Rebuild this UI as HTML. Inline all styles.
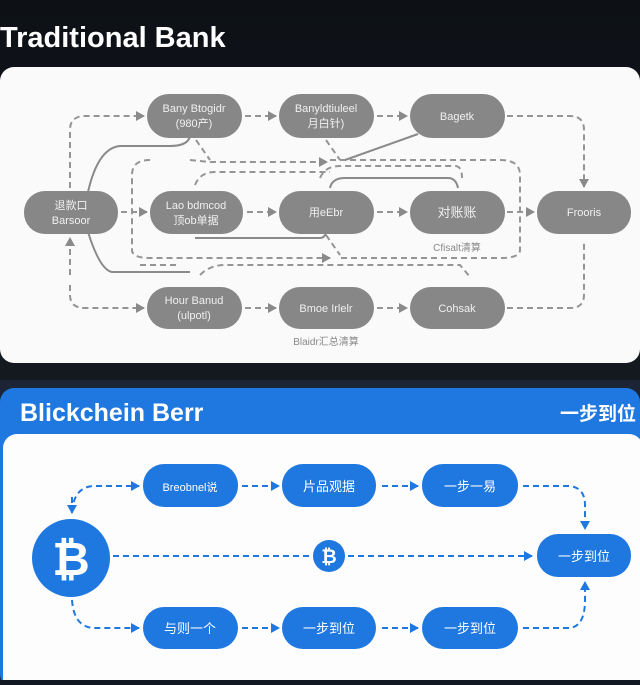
<!DOCTYPE html>
<html><head><meta charset="utf-8"><style>
body{margin:0;width:640px;height:680px;background:#121821;overflow:hidden;font-family:"Liberation Sans","Noto Sans CJK SC",sans-serif}
</style></head><body>
<svg width="640" height="680" viewBox="0 0 640 680" xmlns="http://www.w3.org/2000/svg" font-family="Liberation Sans, Noto Sans CJK SC, sans-serif">
<defs>
<marker id="ag" markerUnits="userSpaceOnUse" markerWidth="9" markerHeight="10" refX="8" refY="5" orient="auto"><path d="M0,0 L9,5 L0,10 Z" fill="#8a8a8a"/></marker>
<marker id="ab" markerUnits="userSpaceOnUse" markerWidth="9" markerHeight="10" refX="8" refY="5" orient="auto"><path d="M0,0 L9,5 L0,10 Z" fill="#1e78e0"/></marker>
<linearGradient id="top" x1="0" y1="0" x2="0" y2="1"><stop offset="0" stop-color="#0d1116"/><stop offset="1" stop-color="#1a2029"/></linearGradient>
</defs>
<rect width="640" height="680" fill="url(#top)"/>
<rect x="0" y="380" width="640" height="300" fill="#1b2535"/>
<text x="0" y="47" font-size="29" font-weight="bold" fill="#fff">Traditional Bank</text>
<rect x="0" y="67" width="640" height="296" rx="14" fill="#fafafa"/>
<g fill="none" stroke="#959595" stroke-width="2" stroke-dasharray="6,4">
<path d="M70,188 V130 Q70,116 85,116 H144" marker-end="url(#ag)"/>
<path d="M245,116 H276" marker-end="url(#ag)"/>
<path d="M377,116 H407" marker-end="url(#ag)"/>
<path d="M507,116 H570 Q584,116 584,130 V187" marker-end="url(#ag)"/>
<path d="M121,212 H147" marker-end="url(#ag)"/>
<path d="M247,212 H276" marker-end="url(#ag)"/>
<path d="M377,212 H407" marker-end="url(#ag)"/>
<path d="M507,212 H534" marker-end="url(#ag)"/>
<path d="M70,285 V295 Q70,308 85,308 H144" marker-end="url(#ag)"/>
<path d="M70,275 V238" marker-end="url(#ag)"/>
<path d="M245,308 H276" marker-end="url(#ag)"/>
<path d="M377,308 H407" marker-end="url(#ag)"/>
<path d="M507,308 H570 Q584,308 584,295 V240"/>
<path d="M190,160 L210,162 H327" marker-end="url(#ag)"/>
<path d="M150,160 Q132,160 132,175 V250 Q132,258 150,258 H330" marker-end="url(#ag)"/>
<path d="M330,160 H500 Q520,160 520,175 V250 Q520,258 500,258 H340"/>
<path d="M195,185 Q200,172 215,172 H330"/>
<path d="M320,178 Q325,166 340,166 H455 Q462,166 462,178"/>
<path d="M196,140 L210,160 M326,140 L340,160 M326,235 L340,255 M200,275 Q210,265 225,265 H460 L470,277"/>
<path d="M140,265 H180"/>
</g>
<g fill="none" stroke="#8a8a8a" stroke-width="2">
<path d="M88,192 Q98,148 120,146 H170 Q188,146 190,136"/>
<path d="M88,232 Q100,270 112,272 H190"/>
<path d="M418,134 L345,160"/>
<path d="M330,188 Q332,178 345,178 H448 Q456,178 458,188"/>
<path d="M195,238 H320 Q325,238 326,232"/>
</g>
<g fill="#878787">
<rect x="147" y="94" width="95" height="44" rx="22"/>
<rect x="279" y="94" width="95" height="44" rx="22"/>
<rect x="410" y="94" width="95" height="44" rx="22"/>
<rect x="24" y="191" width="94" height="43" rx="21"/>
<rect x="150" y="191" width="93" height="43" rx="21"/>
<rect x="279" y="191" width="95" height="43" rx="21"/>
<rect x="410" y="191" width="95" height="43" rx="21"/>
<rect x="537" y="191" width="94" height="43" rx="21"/>
<rect x="147" y="287" width="95" height="42" rx="21"/>
<rect x="279" y="287" width="95" height="42" rx="21"/>
<rect x="410" y="287" width="95" height="42" rx="21"/>
</g>
<g fill="#f0f0f0" font-size="11" text-anchor="middle">
<text x="194" y="112">Bany Btogidr</text><text x="194" y="127">(980产)</text>
<text x="326" y="112">Banyldtiuleel</text><text x="326" y="127">月白针)</text>
<text x="457" y="120">Bagetk</text>
<text x="71" y="209">退款口</text><text x="71" y="224">Barsoor</text>
<text x="196" y="209">Lao bdmcod</text><text x="196" y="224">顶ob单据</text>
<text x="326" y="216">用eEbr</text>
<text x="457" y="217" font-size="13">对账账</text>
<text x="584" y="216">Frooris</text>
<text x="194" y="304">Hour Banud</text><text x="194" y="319">(ulpotl)</text>
<text x="326" y="312">Bmoe Irlelr</text>
<text x="457" y="312">Cohsak</text>
</g>
<text x="457" y="251" font-size="10" fill="#888" text-anchor="middle">Cfisalt清算</text>
<text x="326" y="345" font-size="10" fill="#888" text-anchor="middle">Blaidr汇总清算</text>
<rect x="0" y="388" width="640" height="300" rx="14" fill="#1e78e0"/>
<text x="20" y="421" font-size="25" font-weight="bold" fill="#fff">Blickchein Berr</text>
<text x="636" y="420" font-size="19" font-weight="bold" fill="#fff" text-anchor="end">一步到位</text>
<rect x="3" y="434" width="640" height="260" rx="14" fill="#fdfdfd"/>
<g fill="none" stroke="#1e78e0" stroke-width="2" stroke-dasharray="6,4">
<path d="M72,512 Q74,486 95,486 H139" marker-end="url(#ab)"/>
<path d="M72,497 V513" marker-end="url(#ab)"/>
<path d="M242,486 H279" marker-end="url(#ab)"/>
<path d="M382,486 H418" marker-end="url(#ab)"/>
<path d="M523,486 H570 Q585,488 585,505 V529" marker-end="url(#ab)"/>
<path d="M113,556 H310"/>
<path d="M348,556 H532" marker-end="url(#ab)"/>
<path d="M72,600 Q74,628 95,628 H139" marker-end="url(#ab)"/>
<path d="M242,628 H279" marker-end="url(#ab)"/>
<path d="M382,628 H418" marker-end="url(#ab)"/>
<path d="M523,628 H570 Q585,626 585,600 V582" marker-end="url(#ab)"/>
</g>
<g fill="#1e78e0">
<rect x="143" y="464" width="95" height="43" rx="21"/>
<rect x="282" y="464" width="94" height="43" rx="21"/>
<rect x="422" y="464" width="96" height="43" rx="21"/>
<rect x="537" y="534" width="94" height="43" rx="21"/>
<rect x="143" y="607" width="95" height="42" rx="21"/>
<rect x="282" y="607" width="94" height="42" rx="21"/>
<rect x="422" y="607" width="96" height="42" rx="21"/>
<circle cx="71" cy="558" r="39"/>
<circle cx="329" cy="556" r="16"/>
</g>
<g fill="#fff" text-anchor="middle" font-size="13">
<text x="190" y="491" font-size="11">Breobnel说</text>
<text x="329" y="491">片品观据</text>
<text x="470" y="491">一步一易</text>
<text x="584" y="561">一步到位</text>
<text x="190" y="633">与则一个</text>
<text x="329" y="633">一步到位</text>
<text x="470" y="633">一步到位</text>
<text x="71" y="575" font-size="46" font-weight="bold">₿</text>
<text x="329" y="563" font-size="19" font-weight="bold">₿</text>
</g>
</svg>
</body></html>
